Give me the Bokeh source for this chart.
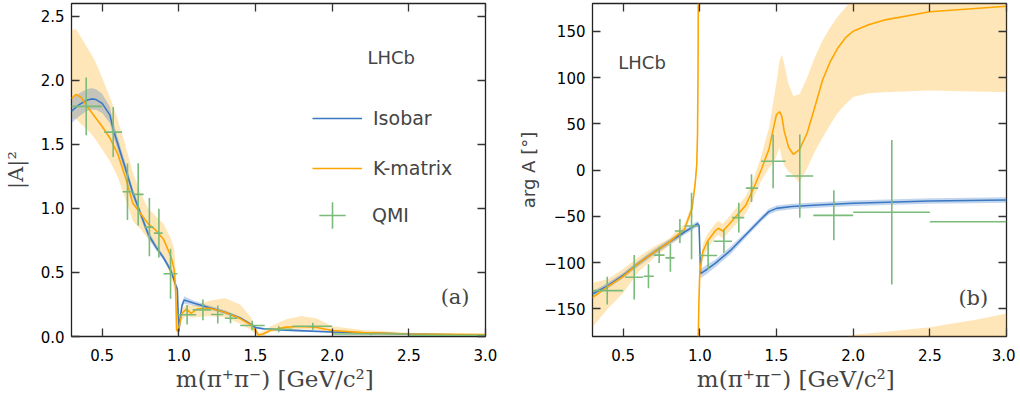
import numpy as np
from bokeh.plotting import figure
from bokeh.layouts import row
from bokeh.models import Range1d, LinearAxis, FixedTicker, Legend, LegendItem, Label
from bokeh.embed import file_html
from bokeh.resources import INLINE

nan = float("nan")

# ---------------- data ----------------
x_ticks = [0.5, 1.0, 1.5, 2.0, 2.5, 3.0]
x_tick_labels = ["0.5", "1.0", "1.5", "2.0", "2.5", "3.0"]
amp_ticks = [0.0, 0.5, 1.0, 1.5, 2.0, 2.5]
amp_tick_labels = ["0.0", "0.5", "1.0", "1.5", "2.0", "2.5"]
phase_ticks = [-150, -100, -50, 0, 50, 100, 150]
phase_tick_labels = ["\u2212150", "\u2212100", "\u221250", "0", "50", "100", "150"]

# Isobar |A|^2
iso_amp_x = [0.30, 0.35, 0.40, 0.43, 0.46, 0.50, 0.55, 0.574, 0.60, 0.65, 0.70, 0.75, 0.80, 0.85, 0.90,
             0.95, 0.98, 0.99, 1.00, 1.01, 1.02, 1.035, 1.06, 1.10, 1.20, 1.30, 1.40, 1.45, 1.48, 1.50,
             1.55, 1.70, 2.00, 2.50, 3.00]
iso_amp_y = [1.76, 1.81, 1.845, 1.855, 1.85, 1.82, 1.73, 1.61, 1.51, 1.32, 1.12, 0.96, 0.80, 0.70, 0.615,
             0.51, 0.40, 0.37, 0.04, 0.15, 0.24, 0.285, 0.275, 0.26, 0.225, 0.19, 0.145, 0.11, 0.085, 0.07,
             0.06, 0.05, 0.035, 0.02, 0.01]
iso_amp_err = [0.095, 0.09, 0.085, 0.085, 0.08, 0.075, 0.065, 0.055, 0.05, 0.04, 0.035, 0.03, 0.03, 0.025, 0.02,
               0.02, 0.02, 0.02, 0.02, 0.02, 0.025, 0.03, 0.025, 0.02, 0.015, 0.015, 0.012, 0.01, 0.01, 0.01,
               0.008, 0.008, 0.006, 0.005, 0.005]

# K-matrix |A|^2
km_amp_x = [0.30, 0.33, 0.36, 0.40, 0.45, 0.50, 0.55, 0.60, 0.65, 0.70, 0.75, 0.80, 0.85, 0.90, 0.95,
            0.97, 0.98, 0.985, 0.995, 1.01, 1.02, 1.05, 1.08, 1.12, 1.20, 1.30, 1.40, 1.47, 1.50, 1.52,
            1.55, 1.60, 1.70, 1.80, 1.90, 2.00, 2.20, 2.50, 3.00]
km_amp_y = [1.86, 1.89, 1.87, 1.80, 1.72, 1.64, 1.55, 1.43, 1.25, 1.04, 0.96, 0.88, 0.83, 0.76, 0.62,
            0.52, 0.35, 0.05, 0.04, 0.12, 0.18, 0.215, 0.18, 0.215, 0.22, 0.19, 0.14, 0.09, 0.05, 0.01,
            0.02, 0.05, 0.073, 0.078, 0.07, 0.047, 0.03, 0.02, 0.015]
km_amp_lo = [1.70, 1.70, 1.66, 1.62, 1.55, 1.46, 1.37, 1.25, 1.08, 0.90, 0.84, 0.76, 0.70, 0.62, 0.46,
             0.38, 0.20, 0.02, 0.0, 0.08, 0.13, 0.16, 0.15, 0.15, 0.16, 0.15, 0.10, 0.05, 0.02, 0.0,
             0.005, 0.035, 0.05, 0.055, 0.05, 0.03, 0.02, 0.01, 0.005]
km_amp_hi = [2.39, 2.40, 2.34, 2.26, 2.16, 2.02, 1.87, 1.70, 1.50, 1.28, 1.12, 1.00, 0.94, 0.88, 0.76,
             0.68, 0.50, 0.10, 0.08, 0.16, 0.22, 0.25, 0.24, 0.25, 0.28, 0.30, 0.25, 0.15, 0.07, 0.03,
             0.04, 0.08, 0.135, 0.16, 0.14, 0.08, 0.05, 0.03, 0.02]

# Isobar phase
iso_ph_x = [0.30, 0.40, 0.50, 0.60, 0.70, 0.80, 0.90, 0.95, 0.985, 0.995, 1.005, 1.05, 1.10, 1.20, 1.30,
            1.40, 1.45, 1.50, 1.60, 1.80, 2.00, 2.50, 3.00]
iso_ph_y = [-134, -125, -114, -101, -89, -78, -67, -62, -58, -60, -112, -107, -101, -87, -70,
            -53, -45, -41.5, -39.5, -37.5, -36, -33.5, -32.5]
iso_ph_err = [3, 3, 3, 3, 3, 3, 3, 3, 3, 3, 5, 5, 4, 4, 3, 3, 3, 3, 3, 3, 3, 3, 3]

# K-matrix phase, below the 180 deg wrap
km_ph_x1 = [0.30, 0.40, 0.50, 0.60, 0.70, 0.80, 0.85, 0.90, 0.95, 0.97, 0.98, 0.985, 0.988, 0.99]
km_ph_y1 = [-138, -126, -115, -101, -89, -78, -71, -64, -41, -14, 6, 40, 100, 180]
km_ph_lo1 = [-170, -150, -133, -110, -95, -82, -76, -69, -46, -20, 0, 34, 94, 175]
km_ph_hi1 = [-122, -118, -107, -94, -83, -74, -66, -59, -35, -8, 14, 48, 108, 180]
# K-matrix phase, after the wrap
km_ph_x2 = [0.99, 0.993, 0.997, 1.00, 1.02, 1.05, 1.10, 1.12, 1.15, 1.20, 1.30, 1.35, 1.40, 1.45, 1.48,
            1.50, 1.52, 1.535, 1.55, 1.58, 1.61, 1.65, 1.70, 1.75, 1.80, 1.85, 1.90, 1.95, 2.00, 2.10,
            2.20, 2.50, 3.00]
km_ph_y2 = [-180, -150, -125, -110, -88, -77, -66, -63, -66, -57, -38, -20, 0, 22, 45,
            60, 63, 58, 42, 24, 17, 22, 40, 68, 97, 117, 132, 143, 150, 157,
            162, 171, 177]
km_ph_lo2 = [-180, -160, -133, -118, -96, -85, -73, -70, -74, -65, -47, -30, -12, 2, 8,
             15, 25, 12, 5, -2, -6, -14, 2, 20, 35, 49, 62, 71, 79, 83,
             84, 86, 84]
km_ph_hi2 = [-180, -140, -117, -102, -80, -69, -58, -55, -58, -49, -28, -10, 15, 45, 75,
             95, 118, 125, 115, 92, 80, 82, 100, 122, 140, 154, 166, 176, 184, 185,
             186, 190, 205]
# upper edge of the band wrapped below -180
km_wrap_x = [1.96, 2.00, 2.20, 2.50, 2.80, 3.00]
km_wrap_hi = [-180, -178, -175, -170, -162, -155]

# QMI points
qmi_x = [0.396, 0.572, 0.665, 0.735, 0.808, 0.870, 0.946, 1.054, 1.157, 1.254, 1.337, 1.478, 1.652, 1.874, 2.252, 2.75]
qmi_bin_lo = [0.30, 0.513, 0.633, 0.70, 0.776, 0.837, 0.90, 0.993, 1.09, 1.21, 1.30, 1.40, 1.56, 1.74, 2.0, 2.5]
qmi_bin_hi = [0.50, 0.63, 0.70, 0.77, 0.835, 0.895, 0.99, 1.113, 1.21, 1.29, 1.38, 1.56, 1.74, 2.0, 2.5, 3.0]
qmi_amp = [1.797, 1.596, 1.13, 1.11, 0.854, 0.807, 0.49, 0.17, 0.208, 0.172, 0.143, 0.086, 0.057, 0.08, 0.02, 0.01]
qmi_amp_err = [0.225, 0.195, 0.22, 0.243, 0.227, 0.19, 0.195, 0.076, 0.081, 0.071, 0.039, 0.037, 0.023, 0.027, 0.01, 0.0]
qmi_ph = [-130.4, -116, -114.9, -92, -95, -66, -60.5, -92.4, -77, -51.5, -19.6, 9.4, -6.5, -49, -45.7, -55.9]
qmi_ph_err = [15, 24, 13, 8.5, 15, 13, 36, 15, 12.5, 16, 15, 29, 45, 27, 78, 0]

# ---------------- style ----------------
BLUE = "#3a78c3"
ORANGE = "#ffa500"
GREEN = "#7aba7a"
SANS = "DejaVu Sans"
SERIF = "DejaVu Serif"
X_LO, X_HI = 0.3, 3.0


def make_fig(y_lo, y_hi, yticks, ylabels, ylabel, ylabel_font, ylabel_size, ylabel_standoff, left_border, right_border):
    p = figure(frame_width=414, frame_height=333,
               x_range=Range1d(X_LO, X_HI), y_range=Range1d(y_lo, y_hi),
               output_backend="svg", toolbar_location=None, title=None,
               min_border_left=left_border, min_border_right=right_border,
               min_border_top=3, min_border_bottom=0)
    p.xgrid.visible = False
    p.ygrid.visible = False
    p.outline_line_color = "#222222"
    p.outline_line_width = 1.3
    p.background_fill_color = "white"
    p.border_fill_color = "white"

    def style(ax, ticks, labels, show):
        ax.ticker = FixedTicker(ticks=ticks)
        ax.major_label_overrides = dict(zip(ticks, labels))
        ax.major_tick_in = 8
        ax.major_tick_out = 0
        ax.minor_tick_in = 0
        ax.minor_tick_out = 0
        ax.major_tick_line_color = "#333333"
        ax.major_tick_line_width = 1.3
        ax.axis_line_color = None
        ax.major_label_text_font = SANS
        ax.major_label_text_font_size = "15px"
        if show:
            ax.major_label_text_color = "black"
        else:
            ax.major_label_text_color = None
            ax.major_label_standoff = 0

    xa = p.xaxis[0]
    style(xa, x_ticks, x_tick_labels, True)
    xa.major_label_standoff = 12
    xa.axis_label = "m(\u03c0\u207a\u03c0\u207b)  [GeV/c\u00b2]"
    xa.axis_label_text_font = SERIF
    xa.axis_label_text_font_size = "23px"
    xa.axis_label_text_font_style = "normal"
    xa.axis_label_standoff = 2

    ya = p.yaxis[0]
    style(ya, yticks, ylabels, True)
    ya.major_label_standoff = 7
    ya.axis_label = ylabel
    ya.axis_label_text_font = ylabel_font
    ya.axis_label_text_font_size = ylabel_size
    ya.axis_label_text_font_style = "normal"
    ya.axis_label_standoff = ylabel_standoff

    top = LinearAxis()
    style(top, x_ticks, x_tick_labels, False)
    p.add_layout(top, "above")
    right = LinearAxis()
    style(right, yticks, ylabels, False)
    p.add_layout(right, "right")
    return p


# ---------------- left panel: |A|^2 ----------------
p1 = make_fig(0.0, 2.6, amp_ticks, amp_tick_labels, "|A|\u00b2", SERIF, "21px", 10, 64, 30)

iso_amp_lo = np.array(iso_amp_y) - np.array(iso_amp_err)
iso_amp_hi = np.array(iso_amp_y) + np.array(iso_amp_err)

p1.varea(x=km_amp_x, y1=km_amp_lo, y2=km_amp_hi, fill_color=ORANGE, fill_alpha=0.28)
p1.varea(x=iso_amp_x, y1=iso_amp_lo, y2=iso_amp_hi, fill_color=BLUE, fill_alpha=0.3)
l_iso = p1.line(iso_amp_x, iso_amp_y, line_color=BLUE, line_width=1.6)
l_km = p1.line(km_amp_x, km_amp_y, line_color=ORANGE, line_width=1.6)

qa = np.array(qmi_amp)
qae = np.array(qmi_amp_err)
p1.segment(x0=qmi_x, y0=qa - qae, x1=qmi_x, y1=qa + qae, line_color=GREEN, line_width=1.6)
p1.segment(x0=qmi_bin_lo, y0=qmi_amp, x1=qmi_bin_hi, y1=qmi_amp, line_color=GREEN, line_width=1.6)
# marker renderer used only for the legend glyph (zero size in the plot)
qmi_glyph = p1.scatter(qmi_x, qmi_amp, marker="cross", size=0, line_color=GREEN, line_width=1.6)

leg_a = Legend(items=[LegendItem(label="Isobar", renderers=[l_iso]),
                      LegendItem(label="K-matrix", renderers=[l_km])],
               location=(241, 157), glyph_width=50, glyph_height=20, label_height=20,
               spacing=28, padding=0, margin=0, border_line_color=None,
               background_fill_alpha=0, label_text_font=SANS, label_text_font_size="19px",
               label_standoff=11)
leg_b = Legend(items=[LegendItem(label="QMI", renderers=[qmi_glyph])],
               location=(228, 86), glyph_width=66, glyph_height=70, label_height=70,
               padding=0, margin=0, border_line_color=None,
               background_fill_alpha=0, label_text_font=SANS, label_text_font_size="19px",
               label_standoff=7)
p1.add_layout(leg_a)
p1.add_layout(leg_b)

p1.add_layout(Label(x=2.23, y=2.18, text="LHCb", text_font=SANS, text_font_size="18px",
                    text_baseline="middle", text_align="left"))
p1.add_layout(Label(x=2.896, y=0.305, text="(a)", text_font=SERIF, text_font_size="21px",
                    text_baseline="middle", text_align="right"))

# ---------------- right panel: phase ----------------
p2 = make_fig(-180, 180, phase_ticks, phase_tick_labels, "arg A [\u00b0]", SANS, "18px", 2, 73, 9)

iso_ph_lo = np.array(iso_ph_y) - np.array(iso_ph_err)
iso_ph_hi = np.array(iso_ph_y) + np.array(iso_ph_err)
wrap_base = np.full(len(km_wrap_x), -180.0)

p2.varea(x=km_ph_x1, y1=km_ph_lo1, y2=km_ph_hi1, fill_color=ORANGE, fill_alpha=0.28)
p2.varea(x=km_ph_x2, y1=km_ph_lo2, y2=km_ph_hi2, fill_color=ORANGE, fill_alpha=0.28)
p2.varea(x=km_wrap_x, y1=wrap_base, y2=km_wrap_hi, fill_color=ORANGE, fill_alpha=0.28)
p2.varea(x=iso_ph_x, y1=iso_ph_lo, y2=iso_ph_hi, fill_color=BLUE, fill_alpha=0.3)
p2.line(iso_ph_x, iso_ph_y, line_color=BLUE, line_width=1.6)
p2.line(km_ph_x1 + [nan] + km_ph_x2, km_ph_y1 + [nan] + km_ph_y2, line_color=ORANGE, line_width=1.6)

qp = np.array(qmi_ph)
qpe = np.array(qmi_ph_err)
p2.segment(x0=qmi_x, y0=qp - qpe, x1=qmi_x, y1=qp + qpe, line_color=GREEN, line_width=1.6)
p2.segment(x0=qmi_bin_lo, y0=qmi_ph, x1=qmi_bin_hi, y1=qmi_ph, line_color=GREEN, line_width=1.6)

p2.add_layout(Label(x=0.468, y=116.6, text="LHCb", text_font=SANS, text_font_size="18px",
                    text_baseline="middle", text_align="left"))
p2.add_layout(Label(x=2.881, y=-138.8, text="(b)", text_font=SERIF, text_font_size="21px",
                    text_baseline="middle", text_align="right"))

layout = row(p1, p2)
open("out.html", "w").write(file_html(layout, INLINE))
